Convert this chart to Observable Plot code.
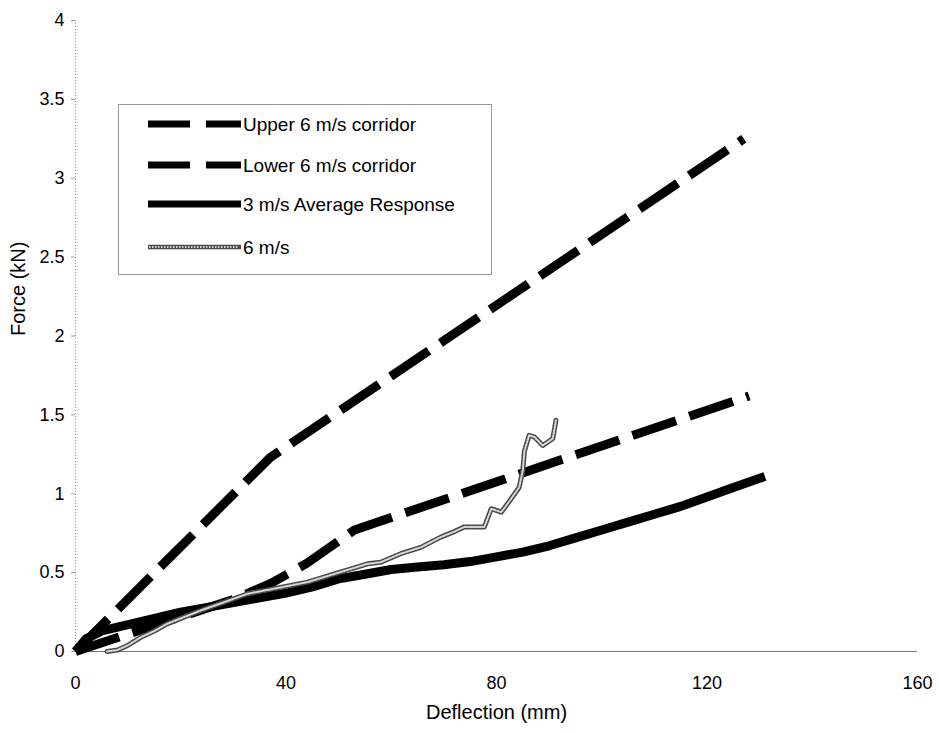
<!DOCTYPE html>
<html><head><meta charset="utf-8">
<script src="https://cdn.jsdelivr.net/npm/d3@7"></script>
<script src="https://cdn.jsdelivr.net/npm/@observablehq/plot@0.6"></script>
<style>
body{margin:0;background:#fff;}
#wrap{position:relative;width:939px;height:733px;font-family:"Liberation Sans",Arial,sans-serif;background:#fff;}
#legend{position:absolute;left:118px;top:104px;}
</style></head><body><div id="wrap"></div>
<script>
// ---- data ----
const xTicks = [0, 40, 80, 120, 160];
const yTicks = [0, 0.5, 1, 1.5, 2, 2.5, 3, 3.5, 4];

const seriesNames = ["Upper 6 m/s corridor", "Lower 6 m/s corridor", "3 m/s Average Response", "6 m/s"];

const upperX = [0, 37, 127];
const upperF = [0, 1.23, 3.25];

const lowerX = [0, 30, 37, 44, 53, 128];
const lowerF = [0, 0.33, 0.43, 0.56, 0.77, 1.62];

const avg3X = [0, 2, 5, 10, 15, 20, 25, 30, 35, 40, 45, 50, 55, 60, 65, 70, 75, 80, 85, 90, 95, 100, 105, 110, 115, 120, 125, 131];
const avg3F = [0, 0.08, 0.13, 0.17, 0.21, 0.25, 0.28, 0.31, 0.34, 0.37, 0.41, 0.46, 0.49, 0.52, 0.535, 0.55, 0.57, 0.6, 0.63, 0.67, 0.72, 0.77, 0.82, 0.87, 0.92, 0.98, 1.04, 1.11];

const v6X = [6, 8, 10, 12.4, 15, 17.4, 20, 23.8, 28, 32.7, 38, 44.1, 50, 55.5, 58, 61.8, 65.6, 69.4, 72, 73.9, 75.5, 77.7, 79, 80.9, 82.1, 84.3, 85, 85.3, 86.2, 87.2, 88.8, 90.7, 91.3];
const v6F = [0, 0.01, 0.04, 0.09, 0.13, 0.175, 0.21, 0.26, 0.31, 0.366, 0.4, 0.44, 0.5, 0.556, 0.566, 0.62, 0.66, 0.725, 0.76, 0.79, 0.79, 0.79, 0.905, 0.883, 0.936, 1.04, 1.148, 1.27, 1.37, 1.36, 1.306, 1.35, 1.465];

// ---- build ----
const rows = (xs, fs) => xs.map((x, i) => ({x, f: fs[i]}));
const upper = rows(upperX, upperF);
const lower = rows(lowerX, lowerF);
const avg3 = rows(avg3X, avg3F);
const v6 = rows(v6X, v6F);

const font = '"Liberation Sans", Arial, sans-serif';
const dash = "46,14";

const plot = Plot.plot({
  width: 939, height: 733,
  marginLeft: 75, marginRight: 22, marginTop: 20, marginBottom: 82,
  x: {domain: [0, 160]},
  y: {domain: [0, 4]},
  style: {fontFamily: font, fontSize: "18px", background: "white", color: "black"},
  marks: [
    Plot.ruleX([0], {stroke: "#999", strokeDasharray: "1,2"}),
    Plot.ruleY([0], {stroke: "#777"}),
    Plot.axisY({ticks: yTicks, tickFormat: d => String(d), tickSize: 4, tickPadding: 7, label: null, stroke: "#999", fill: "black", fontSize: 18}),
    Plot.axisX({ticks: xTicks, tickFormat: d => String(d), tickSize: 0, tickPadding: 25, label: null, fontSize: 18}),
    Plot.line(upper, {x: "x", y: "f", stroke: "black", strokeWidth: 9, strokeDasharray: dash, strokeLinecap: "butt", strokeLinejoin: "round"}),
    Plot.line(lower, {x: "x", y: "f", stroke: "black", strokeWidth: 9, strokeDasharray: dash, strokeLinecap: "butt", strokeLinejoin: "round"}),
    Plot.line(avg3, {x: "x", y: "f", stroke: "black", strokeWidth: 9, strokeLinecap: "butt", strokeLinejoin: "round"}),
    Plot.line(v6, {x: "x", y: "f", stroke: "#4a4a4a", strokeWidth: 5, strokeLinejoin: "round"}),
    Plot.line(v6, {x: "x", y: "f", stroke: "#d8d8d8", strokeWidth: 2, strokeDasharray: "1.5,1.5", strokeLinejoin: "round"}),
    Plot.text(["Deflection (mm)"], {text: d => d, frameAnchor: "bottom", dy: 67, fontSize: 20}),
    Plot.text(["Force (kN)"], {text: d => d, frameAnchor: "left", dx: -57, rotate: -90, fontSize: 20})
  ]
});
const wrap = document.getElementById("wrap");
wrap.appendChild(plot);

// ---- legend ----
const lg = d3.select(wrap).append("svg").attr("id", "legend")
  .attr("width", 374).attr("height", 171)
  .style("font-family", font);
lg.append("rect").attr("x", 0.5).attr("y", 0.5).attr("width", 373).attr("height", 170)
  .attr("fill", "white").attr("stroke", "#999");
const rowY = [20, 61, 100, 143];
const styles = [
  {w: 7, c: "black", dash: "42,16"},
  {w: 7, c: "black", dash: "42,16"},
  {w: 7, c: "black", dash: null},
  {w: 4.5, c: "#4a4a4a", dash: null, dots: true}
];
seriesNames.forEach((name, i) => {
  const s = styles[i];
  const l = lg.append("line").attr("x1", 30).attr("x2", 123).attr("y1", rowY[i]).attr("y2", rowY[i])
    .attr("stroke", s.c).attr("stroke-width", s.w);
  if (s.dash) l.attr("stroke-dasharray", s.dash);
  if (s.dots) lg.append("line").attr("x1", 31).attr("x2", 121).attr("y1", rowY[i]).attr("y2", rowY[i])
    .attr("stroke", "#d8d8d8").attr("stroke-width", 1.8).attr("stroke-dasharray", "1.5,1.5");
  lg.append("text").attr("x", 125).attr("y", rowY[i]).attr("dy", "0.35em")
    .attr("font-size", 19).attr("fill", "black").text(name);
});
</script></body></html>
